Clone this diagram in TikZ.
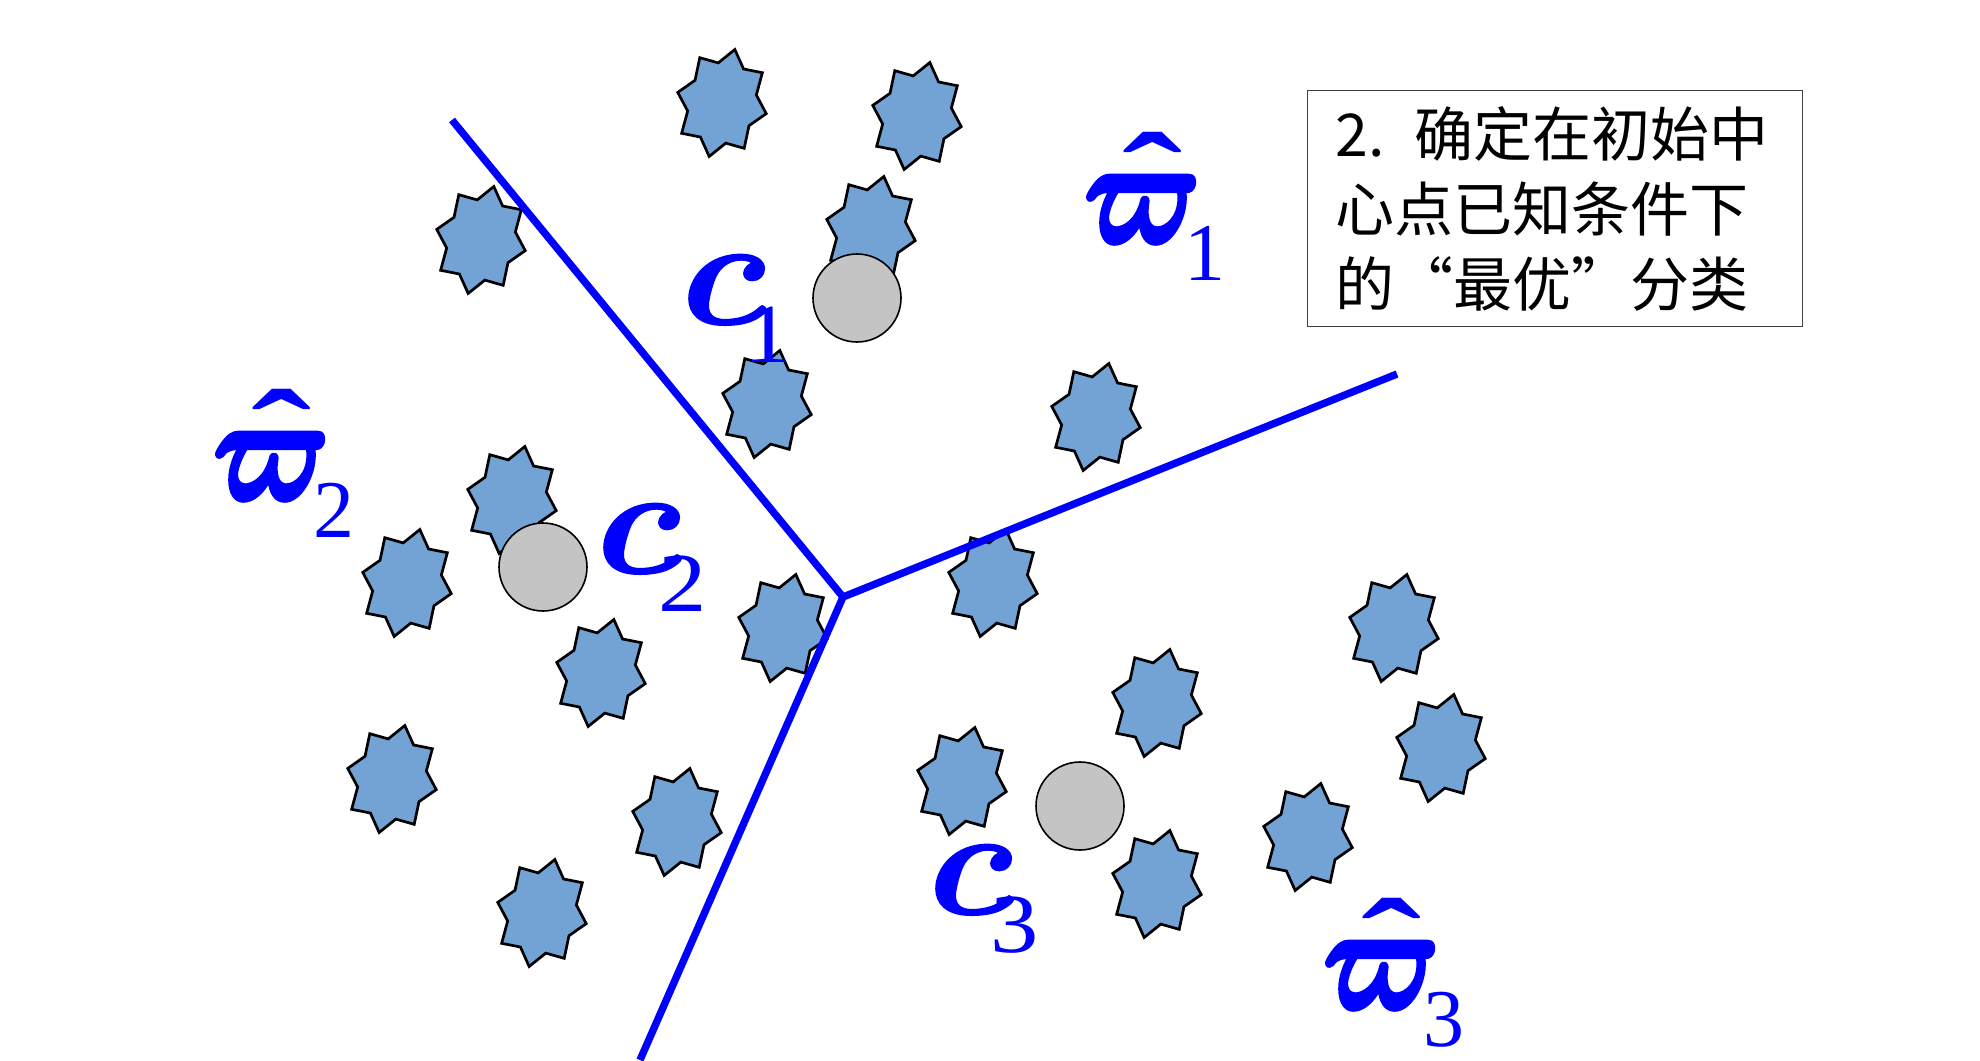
\documentclass[tikz,border=0pt]{standalone}
\usepackage{graphicx}
\usepackage{amsmath,bm}
\usepackage{fontspec}
\newfontfamily\cjk{Noto Sans CJK SC}
\newfontfamily\tnr{Liberation Serif}
\definecolor{starfill}{RGB}{115,163,213}
\definecolor{ctrfill}{RGB}{196,196,196}
\tikzset{
  starshape/.style={fill=starfill, draw=black, line width=1.35pt, line join=miter},
  centre/.style={circle, fill=ctrfill, draw=black, line width=0.8pt, minimum size=44pt, inner sep=0pt},
  border/.style={draw=blue, line width=3.7pt, line join=miter},
  lbl/.style={text=blue, inner sep=0pt, anchor=base west},
  notebox/.style={draw=black!75, line width=0.6pt, anchor=north west, minimum width=247.5pt, minimum height=118pt,
    text width=219.5pt, inner xsep=14pt, align=left, font=\cjk\fontsize{29.5}{37.5}\selectfont},
  pics/star8/.style={code={
    \draw[starshape, rotate=-13.5] (0,-55) -- (13.06,-38.11) -- (32.17,-38.89) -- (31.53,-15.79) -- (45.5,0)
      -- (31.53,15.79) -- (32.17,38.89) -- (13.06,38.11) -- (0,55) -- (-13.06,38.11) -- (-32.17,38.89)
      -- (-31.53,15.79) -- (-45.5,0) -- (-31.53,-15.79) -- (-32.17,-38.89) -- (-13.06,-38.11) -- cycle;
  }}
}
\newcommand\boldon[1]{\special{pdf:literal 2 Tr #1 w 1 j}}
\newcommand\boldoff{\special{pdf:literal 0 Tr 0 j}}
\newcommand\clabel[1]{\rlap{\scalebox{8.3}[7.7]{\boldon{0.1}$\bm{c}$\boldoff}}\hspace{31pt}\raisebox{-19pt}{\scalebox{1.15}[1]{\tnr\fontsize{42}{42}\selectfont #1}}}
\newcommand\wlabel[1]{\rlap{\hspace{34pt}\makebox[0pt][c]{\raisebox{\dimexpr55pt-\height\relax}{\scalebox{2.26}[1.6]{\tnr\bfseries\fontsize{40}{40}\selectfont ˆ}}}}\rlap{\scalebox{5.75}[7.4]{\boldon{0.35}$\bm{\varpi}$\boldoff}}\hspace{50pt}\raisebox{-19pt}{\tnr\fontsize{41}{41}\selectfont #1}}
\begin{document}
\begin{tikzpicture}[x=0.5pt, y=-0.5pt]
\useasboundingbox[fill=white] (0,0) rectangle (1980,1060);
% stars
\foreach \sx/\sy in {722/103, 917/116, 871/230, 481/240, 767/404, 1096/417, 512/500, 407/583,
  993/583, 783/628, 601/673, 1394/628, 1157/703, 392/779, 962/781, 1441/748, 677/822, 1308/837,
  1157/884, 542/913}
  \pic at (\sx,\sy) {star8};
% partition lines
\coordinate (J) at (843,597);
\coordinate (A) at (452,120);
\coordinate (B) at (1397,374);
\coordinate (C) at (640,1060);
\draw[border] (A) -- (J) -- (B);
\draw[border] (J) -- (C);
% centres
\node[centre] (c1) at (857,298) {};
\node[centre] (c2) at (543,567) {};
\node[centre] (c3) at (1080,806) {};
% labels
\node[lbl] (lc1) at (681,324) {\clabel{1}};
\node[lbl] (lc2) at (596,573) {\clabel{2}};
\node[lbl] (lc3) at (928,914) {\clabel{3}};
\node[lbl] (w1) at (1084,242) {\wlabel{1}};
\node[lbl] (w2) at (213,499) {\wlabel{2}};
\node[lbl] (w3) at (1323,1008) {\wlabel{3}};
% note
\node[notebox] (note) at (1307,90) {2. 确定在初始中\\心点已知条件下\\的\makebox[1em][c]{“}最优\makebox[1em][c]{”}分类};
\end{tikzpicture}
\end{document}
